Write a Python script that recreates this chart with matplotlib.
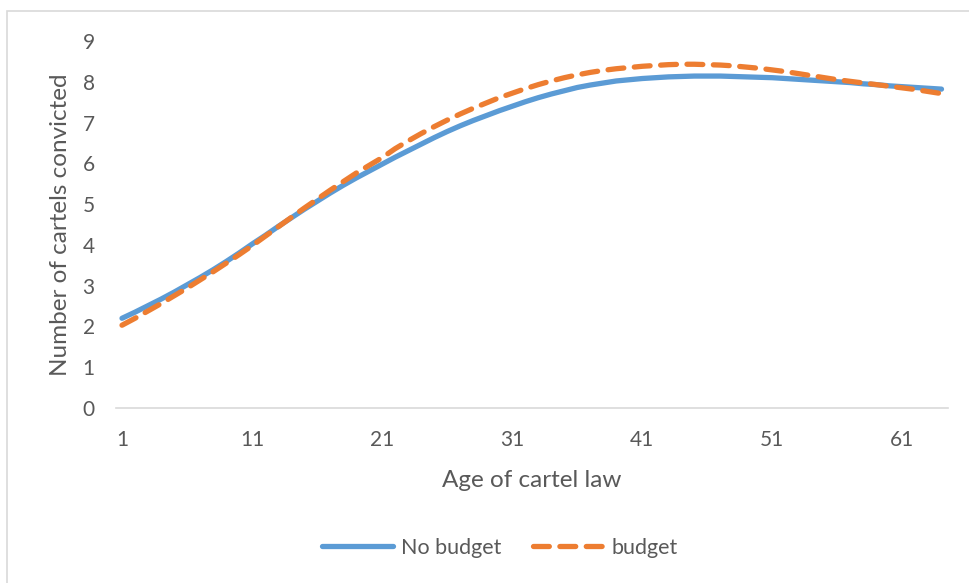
import numpy as np
import matplotlib.pyplot as plt
from matplotlib.patches import Rectangle

# cartels convicted per year of cartel law, with and without budget
age = list(range(1, 65))
no_budget = [2.20, 2.35, 2.51, 2.67, 2.84, 3.02, 3.20, 3.39, 3.59, 3.80,
             4.02, 4.23, 4.45, 4.66, 4.87, 5.07, 5.27, 5.46, 5.64, 5.81,
             5.98, 6.15, 6.31, 6.47, 6.63, 6.78, 6.92, 7.05, 7.17, 7.29,
             7.40, 7.51, 7.61, 7.70, 7.78, 7.86, 7.92, 7.97, 8.02, 8.05,
             8.08, 8.10, 8.12, 8.13, 8.14, 8.14, 8.14, 8.13, 8.12, 8.11,
             8.10, 8.08, 8.06, 8.04, 8.02, 8.00, 7.98, 7.95, 7.93, 7.90,
             7.88, 7.86, 7.84, 7.82]
budget = [2.03, 2.20, 2.38, 2.56, 2.75, 2.94, 3.14, 3.34, 3.55, 3.76,
          3.98, 4.21, 4.44, 4.67, 4.90, 5.12, 5.34, 5.55, 5.76, 5.95,
          6.14, 6.36, 6.55, 6.73, 6.90, 7.06, 7.21, 7.35, 7.48, 7.61,
          7.72, 7.83, 7.93, 8.02, 8.10, 8.17, 8.23, 8.28, 8.32, 8.35,
          8.38, 8.40, 8.42, 8.43, 8.43, 8.42, 8.41, 8.39, 8.36, 8.33,
          8.29, 8.25, 8.20, 8.15, 8.10, 8.05, 8.01, 7.97, 7.93, 7.89,
          7.85, 7.81, 7.76, 7.71]
xticks = [1, 11, 21, 31, 41, 51, 61]
yticks = list(range(0, 10))

plt.rcParams['font.family'] = ['Lato', 'DejaVu Sans']
text_color = '#595959'

W, H = 969, 583
fig = plt.figure(figsize=(W / 100, H / 100), dpi=100)
fig.patches.append(Rectangle((7 / W, -0.1), 1.2, 1.1 - 11 / H, transform=fig.transFigure,
                             fill=False, edgecolor='#d9d9d9', linewidth=1.2))

ax = fig.add_axes([115.5 / W, (H - 408) / H, (948 - 115.5) / W, (408 - 41) / H])
ax.plot(age, no_budget, color='#5b9bd5', linewidth=3.8, solid_capstyle='round',
        label='No budget')
ax.plot(age, budget, color='#ed7d31', linewidth=3.8, dashes=(3.0, 2.0),
        dash_capstyle='round', label='budget')

ax.set_xlim(0.5, 64.5)
ax.set_ylim(0, 9)
ax.set_xticks(xticks)
ax.set_yticks(yticks)
ax.tick_params(length=0, labelsize=15, colors=text_color)
ax.tick_params(axis='x', pad=16)
ax.tick_params(axis='y', pad=15)
for side in ['top', 'right', 'left']:
    ax.spines[side].set_visible(False)
ax.spines['bottom'].set_color('#d9d9d9')
ax.spines['bottom'].set_linewidth(1.2)

ax.set_xlabel('Age of cartel law', fontsize=17.5, color=text_color, labelpad=14)
ax.set_ylabel('Number of cartels convicted', fontsize=17.5, color=text_color, labelpad=8)

# legend sits centred under the whole chart area
leg = fig.legend(*ax.get_legend_handles_labels(), loc='center',
                 bbox_to_anchor=(500 / W, (H - 548) / H), ncol=2,
                 frameon=False, fontsize=15.5, handlelength=3.3, columnspacing=1.5,
                 handletextpad=0.35)
for t in leg.get_texts():
    t.set_color(text_color)

fig.savefig('out.png', dpi=100)
